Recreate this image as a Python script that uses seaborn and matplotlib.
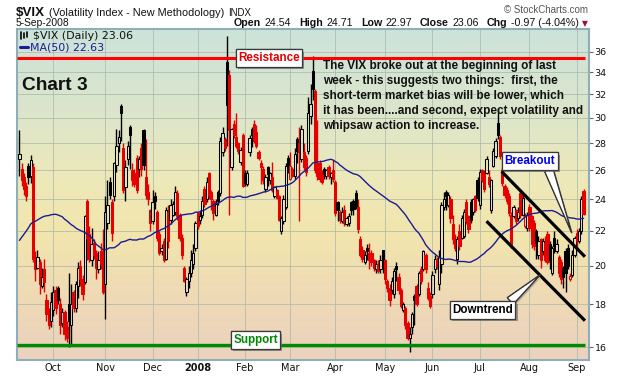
import numpy as np
import pandas as pd
import matplotlib
matplotlib.use("Agg")
import matplotlib.pyplot as plt
import seaborn as sns
from matplotlib import patheffects as pe
from matplotlib.colors import LinearSegmentedColormap
from matplotlib.lines import Line2D
from matplotlib.ticker import NullLocator
from matplotlib.transforms import IdentityTransform

# ---------------- data ----------------
session_start = "2007-09-10"
session_end = "2008-09-05"
market_holidays = ["2007-11-22", "2007-12-25", "2008-01-01", "2008-01-21", "2008-02-18",
                   "2008-03-21", "2008-05-26", "2008-07-04", "2008-09-01"]

opens = [26.8, 26.1, 25.5, 24.9, 26.3, 25.6, 26.2, 20.5, 19.9, 20.2,
         18.9, 19.8, 18.2, 17.6, 17.2, 17.7, 18.7, 18.8, 18.0, 17.1,
         17.6, 16.9, 18.0, 17.0, 18.6, 17.8, 18.9, 20.0, 19.3, 19.1,
         23.9, 21.8, 20.3, 21.3, 20.7, 19.8, 20.8, 20.5, 19.0, 22.5,
         25.2, 23.8, 24.2, 26.4, 28.0, 31.0, 27.6, 24.8, 26.8, 29.3,
         26.0, 25.8, 26.9, 26.1, 27.6, 29.0, 25.5, 24.5, 23.3, 22.6,
         24.2, 23.2, 21.8, 20.8, 21.4, 20.4, 23.2, 22.7, 23.0, 23.2,
         24.4, 23.0, 21.6, 19.9, 18.6, 19.2, 19.6, 20.1, 21.0, 23.1,
         22.7, 23.0, 24.7, 24.0, 25.8, 24.5, 23.9, 23.0, 24.5, 24.4,
         27.3, 28.3, 35.0, 33.8, 26.2, 29.5, 28.5, 28.0, 26.6, 28.6,
         25.8, 25.0, 27.3, 29.1, 29.5, 28.9, 27.3, 26.5, 26.1, 24.7,
         26.2, 25.3, 25.5, 24.2, 24.6, 24.2, 22.0, 22.6, 23.5, 26.9,
         25.4, 26.1, 25.6, 28.3, 28.0, 26.8, 27.3, 26.9, 27.4, 30.2,
         34.1, 32.3, 26.5, 26.5, 25.8, 26.1, 25.6, 26.2, 25.5, 26.0,
         25.2, 23.8, 23.2, 22.6, 23.3, 22.4, 22.5, 23.8, 23.9, 24.4,
         23.5, 21.5, 20.9, 20.2, 21.0, 20.7, 20.7, 20.3, 19.8, 20.1,
         19.8, 20.9, 20.3, 19.2, 18.8, 18.7, 18.5, 20.0, 19.4, 18.7,
         17.7, 17.8, 17.1, 16.4, 16.9, 18.4, 18.9, 18.5, 19.8, 19.8,
         20.6, 18.8, 18.4, 18.5, 19.8, 20.4, 19.0, 20.1, 23.5, 24.5,
         23.6, 24.0, 22.4, 21.5, 20.4, 22.0, 21.6, 21.7, 23.8, 22.9,
         23.8, 23.2, 24.2, 25.3, 23.6, 26.0, 25.8, 25.8, 25.5, 23.3,
         26.3, 27.0, 29.6, 28.5, 26.0, 24.9, 24.6, 24.2, 23.0, 22.9,
         23.3, 22.8, 24.4, 23.0, 22.3, 22.2, 23.5, 22.9, 22.5, 22.0,
         20.6, 21.5, 20.8, 21.3, 21.8, 21.2, 19.6, 21.6, 20.8, 20.5,
         20.2, 19.9, 20.8, 21.0, 19.3, 19.5, 20.6, 21.9, 21.4, 22.0,
         24.54]
highs = [29.0, 26.5, 25.8, 25.2, 26.5, 27.1, 26.5, 20.8, 20.9, 20.4,
         19.9, 20.4, 18.5, 17.8, 18.6, 18.9, 18.9, 18.9, 18.3, 17.8,
         17.7, 17.2, 19.6, 19.0, 18.7, 19.2, 20.2, 20.3, 19.5, 23.0,
         24.0, 22.3, 22.2, 21.5, 20.9, 20.8, 21.3, 22.1, 24.2, 25.3,
         25.5, 24.0, 26.6, 29.1, 29.0, 31.2, 28.0, 26.7, 28.2, 29.4,
         26.5, 26.1, 27.1, 27.0, 28.0, 29.1, 28.3, 25.0, 23.4, 24.6,
         24.5, 23.3, 22.0, 21.2, 21.6, 23.5, 23.6, 24.0, 23.9, 24.9,
         24.6, 23.1, 21.8, 20.0, 19.4, 20.0, 20.9, 21.2, 22.6, 23.2,
         23.3, 24.2, 24.9, 25.5, 25.9, 24.6, 24.0, 24.0, 24.6, 28.5,
         29.3, 28.5, 37.6, 34.2, 29.2, 29.8, 30.4, 28.1, 27.7, 28.8,
         26.0, 26.0, 28.6, 29.3, 29.8, 29.4, 27.5, 26.7, 26.3, 25.7,
         26.3, 25.9, 26.6, 24.9, 24.7, 24.3, 22.9, 24.3, 26.5, 27.1,
         27.3, 26.2, 27.6, 28.5, 29.3, 29.4, 28.0, 27.1, 31.8, 32.9,
         35.6, 32.5, 29.8, 26.7, 26.0, 26.2, 26.1, 26.4, 25.9, 26.7,
         25.3, 23.9, 23.3, 23.5, 23.6, 22.9, 23.1, 23.9, 24.0, 24.6,
         24.0, 21.7, 21.1, 20.8, 21.2, 21.3, 20.9, 20.4, 20.3, 20.3,
         20.6, 20.9, 20.4, 19.3, 19.0, 19.4, 19.9, 20.2, 19.6, 18.8,
         18.1, 17.9, 17.2, 16.9, 17.6, 18.5, 19.0, 19.7, 20.0, 20.9,
         20.7, 19.1, 18.6, 19.7, 20.6, 20.5, 20.9, 23.8, 24.5, 24.6,
         24.5, 24.2, 23.0, 21.8, 21.7, 22.4, 23.0, 23.4, 24.0, 23.0,
         24.0, 24.1, 24.3, 25.5, 26.1, 26.1, 26.0, 27.0, 26.0, 25.4,
         27.6, 28.4, 30.8, 28.6, 26.2, 25.0, 24.8, 24.4, 23.2, 23.6,
         23.4, 23.5, 24.6, 24.3, 23.1, 23.2, 23.7, 23.0, 22.7, 22.1,
         21.7, 21.6, 21.6, 21.7, 22.0, 21.4, 21.1, 22.0, 21.5, 20.6,
         20.4, 20.0, 21.0, 21.2, 19.6, 20.9, 21.7, 22.1, 22.2, 24.2,
         24.71]
lows = [25.6, 24.9, 24.3, 23.9, 25.0, 25.1, 20.2, 19.2, 19.8, 18.5,
        18.8, 18.6, 17.2, 16.8, 16.9, 17.4, 17.5, 18.0, 16.6, 16.9,
        16.3, 16.2, 16.0, 16.1, 17.6, 17.6, 18.3, 18.9, 18.2, 19.0,
        20.3, 20.2, 20.0, 20.4, 19.3, 19.6, 19.8, 18.5, 17.3, 22.1,
        24.0, 21.4, 23.9, 25.9, 27.3, 28.2, 24.4, 23.9, 26.4, 26.1,
        24.9, 24.8, 24.4, 25.5, 25.6, 26.0, 24.0, 23.6, 22.0, 22.4,
        23.4, 21.4, 20.6, 20.6, 20.2, 20.3, 21.0, 22.4, 22.9, 23.0,
        22.7, 21.4, 20.4, 19.1, 18.4, 18.8, 19.4, 19.8, 20.8, 22.1,
        22.4, 22.8, 23.5, 23.8, 24.0, 23.3, 22.7, 22.9, 23.6, 24.2,
        27.0, 27.4, 27.8, 23.0, 26.0, 28.4, 27.6, 27.2, 26.4, 24.8,
        24.9, 24.9, 27.0, 27.7, 28.0, 27.6, 26.7, 25.0, 25.0, 24.5,
        24.9, 25.0, 24.5, 24.1, 24.0, 22.6, 21.8, 22.4, 23.4, 25.8,
        25.3, 25.5, 25.4, 26.5, 22.6, 26.6, 26.0, 25.6, 27.2, 29.5,
        31.5, 25.8, 25.3, 25.2, 25.0, 25.4, 25.4, 25.4, 25.0, 25.2,
        22.9, 22.6, 22.5, 22.5, 22.3, 22.3, 22.3, 23.0, 23.0, 23.4,
        21.9, 20.5, 20.2, 20.1, 20.3, 19.8, 20.0, 19.7, 19.6, 19.6,
        19.6, 19.6, 19.0, 18.6, 17.9, 18.5, 18.3, 19.2, 18.5, 17.8,
        17.6, 16.8, 16.3, 15.8, 16.6, 17.0, 17.9, 18.4, 19.0, 19.7,
        19.6, 18.2, 17.8, 18.3, 19.6, 19.8, 18.7, 19.6, 23.3, 23.3,
        23.5, 22.5, 21.2, 20.8, 20.1, 20.9, 21.5, 21.6, 22.4, 21.9,
        22.5, 23.0, 23.2, 23.9, 23.4, 25.2, 24.5, 25.7, 24.8, 23.1,
        26.2, 26.9, 28.3, 26.8, 24.9, 24.1, 23.7, 22.9, 21.0, 22.8,
        22.4, 22.6, 22.8, 22.9, 22.2, 22.0, 22.0, 21.0, 20.9, 20.4,
        20.4, 19.9, 20.6, 20.2, 20.1, 19.8, 19.5, 20.7, 20.7, 19.4,
        19.0, 18.8, 18.6, 19.8, 19.2, 19.4, 20.5, 21.0, 21.3, 21.8,
        22.97]
closes = [27.2, 25.3, 24.7, 24.2, 25.5, 26.7, 20.4, 19.8, 20.5, 19.0,
          19.4, 19.1, 17.5, 17.0, 18.1, 18.6, 17.8, 18.2, 17.0, 17.6,
          16.6, 16.4, 17.2, 18.0, 17.8, 19.0, 19.9, 19.3, 18.5, 22.9,
          21.6, 20.4, 21.2, 20.6, 19.9, 20.3, 20.1, 18.6, 23.2, 23.6,
          24.3, 21.9, 26.5, 27.8, 28.5, 30.4, 24.6, 26.2, 27.8, 28.6,
          25.3, 25.0, 24.6, 26.8, 26.1, 26.4, 24.3, 24.0, 22.5, 23.8,
          23.9, 21.6, 20.7, 21.0, 20.3, 23.3, 21.4, 23.6, 23.7, 24.5,
          22.9, 21.6, 20.6, 19.2, 19.3, 19.6, 20.3, 20.7, 22.5, 22.3,
          22.9, 23.9, 23.7, 25.2, 24.2, 24.0, 23.1, 23.7, 23.9, 28.2,
          28.8, 27.6, 31.1, 29.0, 29.1, 28.6, 27.8, 27.4, 27.5, 24.9,
          25.1, 25.8, 28.4, 28.6, 28.2, 27.8, 26.9, 26.2, 25.3, 25.5,
          25.7, 25.8, 24.6, 24.8, 24.1, 22.7, 22.8, 24.0, 26.3, 26.4,
          26.3, 25.6, 27.2, 27.4, 27.3, 29.1, 26.2, 25.9, 30.4, 31.2,
          32.5, 26.0, 25.6, 25.4, 25.2, 25.7, 26.0, 25.6, 25.8, 25.4,
          23.1, 23.3, 22.7, 23.2, 22.5, 22.8, 22.9, 23.3, 23.4, 23.5,
          22.1, 20.6, 20.4, 20.6, 20.8, 20.3, 20.2, 19.9, 20.1, 19.7,
          20.3, 20.4, 19.3, 18.8, 18.2, 19.2, 19.7, 19.8, 18.7, 17.9,
          18.0, 17.0, 16.4, 16.6, 17.5, 18.2, 18.0, 19.6, 19.2, 20.8,
          19.8, 18.3, 17.9, 19.5, 20.4, 20.0, 20.5, 23.6, 24.0, 24.2,
          24.3, 22.8, 21.5, 21.0, 21.5, 21.1, 22.8, 23.2, 22.6, 22.1,
          22.7, 24.0, 23.3, 24.1, 25.9, 25.3, 24.7, 26.8, 25.0, 25.3,
          27.4, 28.2, 28.6, 27.0, 25.1, 24.3, 23.9, 23.1, 21.2, 23.5,
          22.6, 23.2, 23.0, 24.1, 22.9, 23.0, 22.2, 21.2, 21.1, 21.3,
          21.4, 20.3, 21.4, 20.3, 20.2, 20.3, 21.0, 21.1, 21.2, 19.6,
          19.3, 19.4, 19.6, 20.0, 19.45, 20.6, 21.6, 21.4, 22.0, 24.03,
          23.06]
# closes of the 49 sessions before the window (feed the 50-day average)
closes_before_window = [16.2, 15.4, 15.0, 15.4, 14.9, 15.2, 17.0, 16.0, 14.9, 15.2,
                        15.9, 15.9, 16.3, 15.6, 17.6, 17.3, 20.0, 19.9, 20.7, 24.2,
                        21.1, 23.5, 24.1, 21.8, 25.2, 23.9, 22.6, 21.3, 26.5, 26.5,
                        25.0, 27.0, 29.0, 30.7, 25.1, 25.2, 24.9, 22.5, 21.9, 20.7,
                        22.2, 26.0, 23.7, 23.6, 23.4, 23.0, 24.7, 24.7, 26.2]
ma_window = 50
resistance_level = 35.4
support_level = 16.1
y_ticks = [16, 18, 20, 22, 24, 26, 28, 30, 32, 34, 36]
month_labels = ["Oct", "Nov", "Dec", "2008", "Feb", "Mar", "Apr", "May", "Jun", "Jul", "Aug", "Sep"]
# hand-drawn downtrend channel (session index, level)
channel_upper_x = [213.7, 250.6]
channel_upper_y = [25.9, 20.5]
channel_lower_x = [207.0, 250.6]
channel_lower_y = [22.6, 17.2]
breakout_point = (244.7, 21.9)
downtrend_point = (230.7, 19.5)

note_text = ("The VIX broke out at the beginning of last\n"
             "week - this suggests two things:  first, the\n"
             "short-term market bias will be lower, which\n"
             "it has been....and second, expect volatility and\n"
             "whipsaw action to increase.")

# ---------------- figure ----------------
sns.set_theme(style="white")
plt.rcParams['font.family'] = ['Liberation Sans', 'DejaVu Sans']

W, H = 620, 376
fig = plt.figure(figsize=(W / 100, H / 100), dpi=100)
fig.patch.set_facecolor('white')
rect = [17 / W, 1 - 360 / H, (589 - 17) / W, (360 - 29) / H]

bg = fig.add_axes(rect, zorder=0)
bg_cmap = LinearSegmentedColormap.from_list(
    'bg', [(0.0, '#CCE3DA'), (0.25, '#DCE5CB'), (0.45, '#EDE9B9'),
           (0.62, '#F2E5AD'), (0.80, '#EFDAB5'), (1.0, '#EBD2BE')])
bg.imshow(np.linspace(0, 1, 256)[:, None], cmap=bg_cmap, aspect='auto',
          extent=[0, 1, 0, 1], origin='upper')
bg.set_axis_off()

ax = fig.add_axes(rect, zorder=1)
ax.set_facecolor('none')

dates = pd.bdate_range(session_start, session_end)
dates = dates[~dates.isin(pd.to_datetime(market_holidays))]
n = len(closes)
assert len(dates) == n == len(opens) == len(highs) == len(lows)
x = np.arange(n)
o = np.array(opens); h = np.array(highs); l = np.array(lows); c = np.array(closes)

prev_close = np.r_[closes_before_window[-1], c[:-1]]
col = np.where(c >= prev_close, 'black', '#E60000')
body_lo = np.minimum(o, c)
body_hi = np.maximum(o, c)
hollow = c > o

ax.vlines(x, l, body_lo, colors=col, lw=1.0, zorder=3)
ax.vlines(x, body_hi, h, colors=col, lw=1.0, zorder=3)
face = ['none' if hh else cc for hh, cc in zip(hollow, col)]
ax.bar(x, body_hi - body_lo, bottom=body_lo, width=1.0, color=face,
       edgecolor=col, linewidth=0.75, zorder=4)

all_close = pd.Series(list(closes_before_window) + list(closes))
ma50 = all_close.rolling(ma_window).mean().iloc[len(closes_before_window):].to_numpy()
sns.lineplot(x=x, y=ma50, ax=ax, color='#1B1B96', lw=1.0, zorder=5)

ax.set_yscale('log')
ax.set_xlim(-1.06, 252.4)
ax.set_ylim(15.44, 38.3)

# support / resistance and channel
ax.hlines(resistance_level, -1.06, 250.6, color='#FF0000', lw=2.2, zorder=6)
ax.hlines(support_level, -1.06, 250.6, color='#008A00', lw=2.4, zorder=6)
ax.plot(channel_upper_x, channel_upper_y, color='black', lw=2.3, zorder=6, solid_capstyle='butt')
ax.plot(channel_lower_x, channel_lower_y, color='black', lw=2.3, zorder=6, solid_capstyle='butt')

# axes styling
month_pos = [i for i in range(1, n) if dates[i].month != dates[i - 1].month]
ax.set_xticks(month_pos)
ax.set_xticklabels(month_labels, family='DejaVu Sans')
for t in ax.get_xticklabels():
    if t.get_text() == '2008':
        t.set_fontweight('bold')
ax.set_yticks(y_ticks)
ax.yaxis.set_minor_locator(NullLocator())
ax.set_yticklabels([str(v) for v in y_ticks], family='DejaVu Sans')
ax.yaxis.tick_right()
ax.tick_params(axis='y', which='major', right=True, left=False, length=3, width=0.8,
               color='#666666', labelsize=6.8, pad=1, labelcolor='#111111')
ax.tick_params(axis='x', length=0, labelsize=7.0, pad=2, labelcolor='#111111')
ax.grid(True, color='#A8B8A8', lw=0.6, alpha=0.85)
ax.set_axisbelow(True)
for sp in ax.spines.values():
    sp.set_color('#8FAEB8'); sp.set_linewidth(1.5)
ax.set_xlabel(''); ax.set_ylabel('')

# ---------------- texts ----------------
def fpx(px, py):
    return px / W, 1 - py / H

fig.text(*fpx(16, 15.5), '$VIX', fontsize=9.6, fontweight='bold', va='baseline', color='#111')
fig.text(*fpx(49, 15.5), '(Volatility Index - New Methodology)', fontsize=7.8, va='baseline', color='#111')
fig.text(*fpx(228, 15.5), 'INDX', fontsize=6.9, va='baseline', color='#111')
fig.text(*fpx(16, 26.5), '5-Sep-2008', fontsize=7.4, va='baseline', color='#111')
fig.text(*fpx(588, 13), '\u00a9 StockCharts.com', fontsize=7.0, ha='right', va='baseline', color='#555555')

renderer = fig.canvas.get_renderer()
runs = [("Open", True), ("24.54", False), ("High", True), ("24.71", False),
        ("Low", True), ("22.97", False), ("Close", True), ("23.06", False),
        ("Chg", True), ("-0.97 (-4.04%)", False)]
items = []
for s, b in runs:
    t = fig.text(0, 0, s, fontsize=7.7, fontweight='bold' if b else 'normal',
                 va='baseline', ha='left', color='#111', transform=IdentityTransform())
    items.append((t, t.get_window_extent(renderer).width, b))
gap_in, gap_out = 3.5, 8.0
total = sum(wd for _, wd, _ in items) + sum(gap_in if b else gap_out for _, _, b in items[:-1])
xcur = 579 - total
for t, wd, b in items:
    t.set_position((xcur, H - 26.5))
    xcur += wd + (gap_in if b else gap_out)
fig.text(*fpx(585, 26.5), '\u25bc', fontsize=5.5, ha='center', va='baseline',
         color='#99113A', family='DejaVu Sans')

# in-plot legend
fig.text(*fpx(33, 39), '$VIX (Daily) 23.06', fontsize=7.9, va='baseline', color='#111', family='DejaVu Sans')
fig.text(*fpx(30, 51), 'MA(50) 22.63', fontsize=7.9, va='baseline', color='#1B1B96', family='DejaVu Sans')
fig.add_artist(Line2D([20 / W, 28 / W], [1 - 47 / H, 1 - 47 / H], color='#1B1B96', lw=2.2))
for xx, y0, y1 in [(21, 32, 39), (24, 33, 38), (27, 32, 37)]:
    fig.add_artist(Line2D([xx / W, xx / W], [1 - y0 / H, 1 - y1 / H], color='black', lw=1.2))

fig.text(*fpx(22, 85), 'Chart 3', fontsize=13.8, fontweight='bold', va='center', color='#111')
fig.text(*fpx(323, 60), note_text, fontsize=8.5, fontweight='bold', va='top',
         linespacing=1.34, color='#111')

shadow = [pe.withSimplePatchShadow(offset=(1.5, -1.5), shadow_rgbFace='#777777', alpha=0.7), pe.Normal()]
box = dict(boxstyle='square,pad=0.22', fc='white', ec='#3a3a3a', lw=0.9)

def label_box(text, px, py, color):
    t = ax.annotate(text, xy=(px, H - py), xycoords='figure pixels', ha='center', va='center',
                    fontsize=8.4, fontweight='bold', color=color, bbox=dict(box),
                    zorder=10, annotation_clip=False)
    t.get_bbox_patch().set_path_effects(shadow)

def callout(text, px, py, color, target, relpos):
    t = ax.annotate(text, xy=target, xycoords='data', xytext=(px, H - py), textcoords='figure pixels',
                    ha='center', va='center', fontsize=8.4, fontweight='bold', color=color,
                    bbox=dict(box), zorder=10, annotation_clip=False,
                    arrowprops=dict(arrowstyle='wedge,tail_width=0.75,shrink_factor=0.5',
                                    fc='white', ec='#333333', lw=0.9, relpos=relpos,
                                    shrinkA=0, shrinkB=0))
    t.get_bbox_patch().set_path_effects(shadow)
    t.arrow_patch.set_path_effects([pe.withSimplePatchShadow(offset=(1.2, -1.2), shadow_rgbFace='#888888', alpha=0.6), pe.Normal()])

label_box('Resistance', 269, 58, '#E60000')
label_box('Support', 255.5, 340, '#008A00')
callout('Breakout', 530, 161, '#0000E6', breakout_point, (0.85, 0.0))
callout('Downtrend', 482.5, 310, '#000000', downtrend_point, (0.9, 1.0))

fig.savefig('out.png', dpi=100, facecolor='white')
